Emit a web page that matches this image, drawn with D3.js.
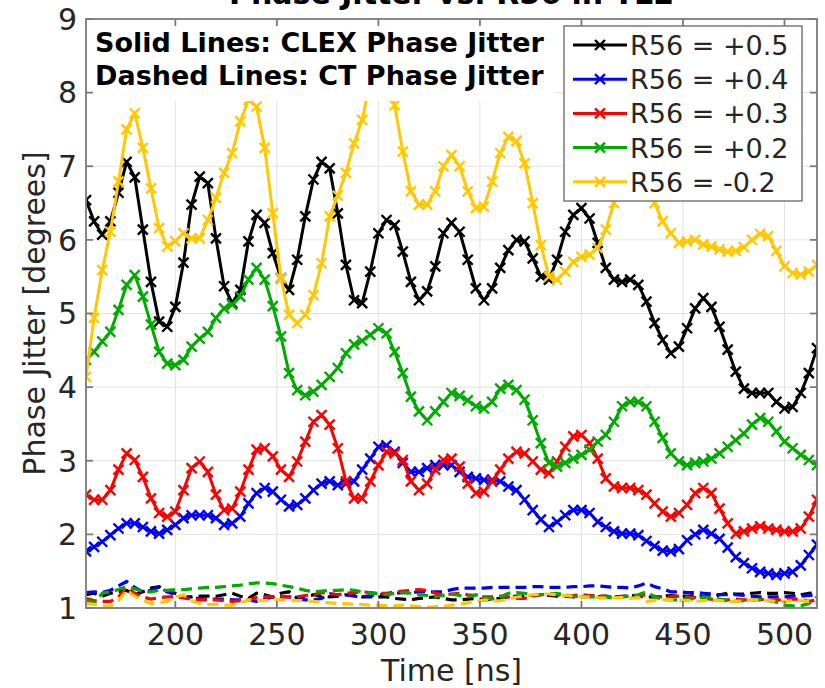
<!DOCTYPE html>
<html>
<head>
<meta charset="utf-8">
<script src="https://cdn.jsdelivr.net/npm/d3@7"></script>
<style>
  html, body { margin: 0; padding: 0; background: #fff; }
  svg { display: block; font-family: "DejaVu Sans", sans-serif; }
</style>
</head>
<body>
<svg id="chart" width="825" height="688"></svg>
<script>
// Sample times [ns]
const timeNs = [156,160,164,168,172,176,180,184,188,192,196,200,204,208,212,216,220,224,228,232,
  236,240,244,248,252,256,260,264,268,272,276,280,284,288,292,296,300,304,308,312,
  316,320,324,328,332,336,340,344,348,352,356,360,364,368,372,376,380,384,388,392,
  396,400,404,408,412,416,420,424,428,432,436,440,444,448,452,456,460,464,468,472,
  476,480,484,488,492,496,500,504,508,512,516];

// CLEX phase jitter [deg] (solid lines)
const clexR56p05 = [6.54,6.25,6.07,6.25,6.64,7.06,6.85,6.14,5.43,4.89,4.82,5.09,5.69,6.48,6.86,6.77,6.02,5.37,5.14,5.32,
  5.98,6.34,6.23,5.82,5.48,5.32,5.73,6.32,6.82,7.06,6.97,6.36,5.66,5.18,5.14,5.57,6.09,6.27,6.20,5.84,
  5.43,5.18,5.30,5.64,6.09,6.23,6.11,5.73,5.34,5.18,5.34,5.62,5.86,6.00,5.98,5.75,5.50,5.46,5.73,6.11,
  6.34,6.43,6.29,5.96,5.62,5.46,5.43,5.46,5.39,5.16,4.87,4.64,4.46,4.55,4.80,5.07,5.21,5.09,4.82,4.51,
  4.21,3.98,3.92,3.92,3.92,3.80,3.71,3.73,3.92,4.19,4.53];
const clexR56p04 = [1.77,1.83,1.90,1.99,2.08,2.15,2.15,2.10,2.04,2.01,2.06,2.13,2.22,2.26,2.26,2.26,2.22,2.13,2.15,2.24,
  2.42,2.56,2.63,2.58,2.47,2.38,2.40,2.49,2.60,2.69,2.72,2.67,2.69,2.72,2.88,3.03,3.19,3.21,3.12,2.97,
  2.85,2.85,2.90,2.94,2.94,2.94,2.85,2.78,2.76,2.74,2.74,2.72,2.65,2.60,2.47,2.33,2.20,2.10,2.17,2.26,
  2.33,2.33,2.29,2.17,2.10,2.04,2.01,2.01,1.99,1.91,1.84,1.78,1.77,1.80,1.92,2.00,2.06,2.01,1.94,1.82,
  1.69,1.61,1.54,1.49,1.47,1.45,1.47,1.49,1.58,1.72,1.86];
const clexR56p03 = [2.54,2.47,2.47,2.60,2.88,3.10,3.01,2.78,2.49,2.29,2.24,2.31,2.60,2.90,2.99,2.85,2.54,2.33,2.35,2.58,
  2.88,3.15,3.17,3.06,2.88,2.78,2.99,3.26,3.53,3.62,3.49,3.17,2.72,2.49,2.49,2.72,2.94,3.12,3.10,3.01,
  2.72,2.60,2.69,2.88,3.01,3.03,2.92,2.69,2.56,2.58,2.72,2.88,3.03,3.12,3.10,2.99,2.88,2.83,2.99,3.19,
  3.33,3.35,3.24,3.03,2.76,2.65,2.63,2.63,2.60,2.54,2.42,2.31,2.24,2.29,2.40,2.56,2.63,2.56,2.35,2.15,
  2.01,2.04,2.08,2.11,2.08,2.06,2.04,2.04,2.08,2.24,2.47];
const clexR56p02 = [4.37,4.48,4.62,4.75,5.05,5.39,5.52,5.23,4.85,4.48,4.32,4.30,4.37,4.55,4.66,4.75,4.94,5.07,5.12,5.23,
  5.46,5.62,5.46,5.10,4.69,4.19,3.96,3.89,3.94,4.03,4.14,4.26,4.46,4.58,4.63,4.71,4.80,4.73,4.48,4.19,
  3.87,3.67,3.55,3.67,3.80,3.92,3.88,3.82,3.74,3.71,3.80,3.98,4.03,3.96,3.83,3.55,3.24,2.97,2.92,2.97,
  3.03,3.08,3.15,3.26,3.35,3.53,3.74,3.80,3.80,3.74,3.53,3.31,3.10,2.99,2.94,2.97,2.99,3.03,3.10,3.19,
  3.28,3.37,3.49,3.58,3.53,3.40,3.26,3.17,3.08,3.01,2.94];
const clexR56m02 = [4.14,4.94,5.59,6.11,6.79,7.50,7.72,7.25,6.70,6.16,5.91,5.98,6.09,6.02,6.02,6.27,6.57,6.91,7.18,7.61,
  7.90,7.81,7.25,6.36,5.48,4.98,4.87,4.98,5.25,5.68,6.32,6.60,6.91,7.31,7.63,8.15,8.40,8.30,7.83,7.20,
  6.66,6.48,6.48,6.66,7.00,7.15,7.00,6.66,6.43,6.45,6.79,7.18,7.40,7.34,7.04,6.50,5.93,5.50,5.46,5.57,
  5.70,5.77,5.80,5.89,6.14,6.50,6.90,7.20,7.30,7.00,6.50,6.25,6.09,5.96,5.98,6.00,5.94,5.91,5.87,5.84,
  5.85,5.90,6.00,6.08,6.05,5.85,5.64,5.55,5.53,5.57,5.66];

// CT phase jitter [deg] (dashed lines)
const ctR56p05 = [1.18,1.20,1.16,1.20,1.22,1.24,1.18,1.22,1.27,1.29,1.22,1.20,1.15,1.15,1.16,1.16,1.16,1.18,1.20,1.16,
  1.13,1.20,1.18,1.15,1.20,1.22,1.13,1.15,1.18,1.16,1.15,1.16,1.18,1.17,1.15,1.15,1.15,1.15,1.13,1.12,
  1.11,1.13,1.14,1.15,1.13,1.11,1.11,1.12,1.13,1.11,1.12,1.13,1.15,1.16,1.16,1.17,1.18,1.17,1.16,1.16,
  1.15,1.15,1.16,1.15,1.16,1.15,1.16,1.17,1.16,1.15,1.15,1.16,1.17,1.16,1.16,1.17,1.16,1.15,1.18,1.20,
  1.19,1.19,1.20,1.21,1.20,1.20,1.21,1.20,1.18,1.20,1.21];
const ctR56p04 = [1.21,1.22,1.21,1.24,1.30,1.36,1.28,1.22,1.24,1.29,1.22,1.18,1.14,1.13,1.13,1.12,1.12,1.12,1.11,1.11,
  1.11,1.09,1.12,1.15,1.15,1.15,1.12,1.11,1.11,1.13,1.19,1.18,1.18,1.16,1.15,1.17,1.18,1.19,1.20,1.21,
  1.21,1.22,1.22,1.22,1.22,1.25,1.27,1.27,1.27,1.27,1.28,1.28,1.28,1.28,1.28,1.29,1.29,1.28,1.28,1.28,
  1.29,1.29,1.30,1.30,1.29,1.28,1.28,1.27,1.30,1.34,1.29,1.26,1.22,1.22,1.21,1.21,1.20,1.19,1.18,1.18,
  1.18,1.17,1.16,1.15,1.15,1.15,1.15,1.16,1.16,1.17,1.18];
const ctR56p03 = [1.13,1.10,1.09,1.09,1.15,1.28,1.20,1.15,1.12,1.14,1.15,1.15,1.14,1.12,1.11,1.11,1.11,1.10,1.09,1.10,
  1.11,1.14,1.15,1.15,1.15,1.15,1.15,1.17,1.18,1.21,1.20,1.18,1.20,1.21,1.22,1.21,1.20,1.20,1.22,1.23,
  1.24,1.25,1.24,1.20,1.18,1.19,1.20,1.18,1.17,1.15,1.15,1.16,1.15,1.13,1.13,1.16,1.18,1.18,1.18,1.17,
  1.17,1.18,1.17,1.17,1.16,1.15,1.15,1.16,1.17,1.18,1.16,1.15,1.15,1.16,1.15,1.14,1.13,1.12,1.11,1.11,
  1.12,1.11,1.11,1.12,1.11,1.11,1.11,1.12,1.12,1.09,1.11];
const ctR56p02 = [1.11,1.07,1.20,1.22,1.25,1.29,1.26,1.22,1.22,1.24,1.24,1.25,1.25,1.26,1.27,1.28,1.28,1.29,1.30,1.31,
  1.33,1.34,1.34,1.33,1.31,1.29,1.27,1.24,1.22,1.23,1.24,1.24,1.25,1.24,1.22,1.20,1.20,1.18,1.20,1.21,
  1.20,1.18,1.17,1.15,1.17,1.19,1.17,1.15,1.18,1.15,1.12,1.15,1.20,1.21,1.20,1.18,1.18,1.19,1.20,1.18,
  1.16,1.15,1.15,1.15,1.15,1.13,1.15,1.17,1.18,1.22,1.15,1.12,1.11,1.11,1.12,1.13,1.15,1.14,1.12,1.10,
  1.09,1.10,1.11,1.11,1.10,1.08,1.04,1.03,1.03,1.06,1.15];
const ctR56m02 = [1.06,1.05,1.03,1.02,1.10,1.24,1.16,1.11,1.06,1.07,1.09,1.15,1.18,1.10,1.06,1.05,1.05,1.04,1.04,1.07,
  1.11,1.10,1.10,1.11,1.11,1.10,1.10,1.10,1.09,1.08,1.07,1.06,1.06,1.05,1.05,1.04,1.04,1.03,1.03,1.04,
  1.03,1.02,1.01,1.02,1.02,1.04,1.05,1.07,1.09,1.11,1.09,1.10,1.12,1.15,1.16,1.18,1.19,1.19,1.18,1.17,
  1.16,1.15,1.15,1.14,1.13,1.14,1.14,1.13,1.14,1.09,1.10,1.11,1.11,1.10,1.10,1.09,1.10,1.11,1.10,1.09,
  1.09,1.10,1.11,1.11,1.10,1.09,1.09,1.10,1.10,1.09,1.08];

const seriesLabels = ["R56 = +0.5", "R56 = +0.4", "R56 = +0.3", "R56 = +0.2", "R56 = -0.2"];
const seriesColors = ["#000000", "#0000ff", "#ff0000", "#00aa00", "#ffc800"];
const clexSeries = [clexR56p05, clexR56p04, clexR56p03, clexR56p02, clexR56m02];
const ctSeries = [ctR56p05, ctR56p04, ctR56p03, ctR56p02, ctR56m02];

const xTicks = [200, 250, 300, 350, 400, 450, 500];
const yTicks = [1, 2, 3, 4, 5, 6, 7, 8, 9];
const titleText = "Phase Jitter vs. R56 in TL2";
const xLabel = "Time [ns]";
const yLabel = "Phase Jitter [degrees]";
const noteLines = ["Solid Lines: CLEX Phase Jitter", "Dashed Lines: CT Phase Jitter"];

// ---- layout ----
const plot = { left: 86, right: 817, top: 19, bottom: 608 };
const x = d3.scaleLinear().domain([156, 516]).range([plot.left, plot.right]);
const y = d3.scaleLinear().domain([1, 9]).range([plot.bottom, plot.top]);
const axisColor = "#262626";
const frameColor = "#7a7a7a";

const svg = d3.select("#chart");

svg.append("defs").append("clipPath").attr("id", "plotClip")
  .append("rect")
  .attr("x", plot.left).attr("y", plot.top)
  .attr("width", plot.right - plot.left).attr("height", plot.bottom - plot.top);

// grid
const grid = svg.append("g").attr("stroke", "#e2e2e2").attr("stroke-width", 1);
grid.selectAll("line.gx").data(xTicks).join("line")
  .attr("x1", d => x(d)).attr("x2", d => x(d))
  .attr("y1", plot.top).attr("y2", plot.bottom);
grid.selectAll("line.gy").data(yTicks.slice(1, -1)).join("line")
  .attr("x1", plot.left).attr("x2", plot.right)
  .attr("y1", d => y(d)).attr("y2", d => y(d));

// data
const data = svg.append("g").attr("clip-path", "url(#plotClip)");
const line = d3.line().x((d, i) => x(timeNs[i])).y(d => y(d));
const crossPath = "M-5,-5L5,5M-5,5L5,-5";

ctSeries.forEach((vals, k) => {
  data.append("path")
    .attr("d", line(vals))
    .attr("fill", "none")
    .attr("stroke", seriesColors[k])
    .attr("stroke-width", 3.2)
    .attr("stroke-dasharray", "11,6");
});

clexSeries.forEach((vals, k) => {
  const g = data.append("g");
  g.append("path")
    .attr("d", line(vals))
    .attr("fill", "none")
    .attr("stroke", seriesColors[k])
    .attr("stroke-width", 3)
    .attr("stroke-linejoin", "round");
  g.selectAll("path.mk").data(vals).join("path")
    .attr("class", "mk")
    .attr("d", crossPath)
    .attr("transform", (d, i) => `translate(${x(timeNs[i])},${y(d)})`)
    .attr("fill", "none")
    .attr("stroke", seriesColors[k])
    .attr("stroke-width", 2.4);
});

// annotation box
svg.append("rect")
  .attr("x", plot.left).attr("y", plot.top)
  .attr("width", 555 - plot.left).attr("height", 101 - plot.top)
  .attr("fill", "#ffffff");
svg.selectAll("text.note").data(noteLines).join("text")
  .attr("class", "note")
  .attr("x", 95)
  .attr("y", (d, i) => 52 + i * 33)
  .attr("font-size", 27)
  .attr("font-weight", "bold")
  .attr("fill", "#000")
  .text(d => d);

// frame and ticks
const frame = svg.append("g").attr("stroke", frameColor).attr("stroke-width", 1.8).attr("fill", "none");
frame.append("rect")
  .attr("x", plot.left).attr("y", plot.top)
  .attr("width", plot.right - plot.left).attr("height", plot.bottom - plot.top);
const tl = 7;
xTicks.forEach(t => {
  frame.append("line").attr("x1", x(t)).attr("x2", x(t)).attr("y1", plot.bottom).attr("y2", plot.bottom - tl);
  frame.append("line").attr("x1", x(t)).attr("x2", x(t)).attr("y1", plot.top).attr("y2", plot.top + tl);
});
yTicks.forEach(t => {
  frame.append("line").attr("x1", plot.left).attr("x2", plot.left + tl).attr("y1", y(t)).attr("y2", y(t));
  frame.append("line").attr("x1", plot.right).attr("x2", plot.right - tl).attr("y1", y(t)).attr("y2", y(t));
});

// tick labels
svg.selectAll("text.xt").data(xTicks).join("text")
  .attr("class", "xt")
  .attr("x", d => x(d)).attr("y", 645)
  .attr("text-anchor", "middle")
  .attr("font-size", 30).attr("fill", axisColor)
  .text(d => d);
svg.selectAll("text.yt").data(yTicks).join("text")
  .attr("class", "yt")
  .attr("x", 77).attr("y", d => y(d))
  .attr("dy", "0.36em")
  .attr("text-anchor", "end")
  .attr("font-size", 30).attr("fill", axisColor)
  .text(d => d);

// axis labels and title (title sits at the very top edge of the figure)
svg.append("text")
  .attr("x", (plot.left + plot.right) / 2).attr("y", 681)
  .attr("text-anchor", "middle")
  .attr("font-size", 30).attr("fill", axisColor)
  .text(xLabel);
svg.append("text")
  .attr("transform", `translate(45,${(plot.top + plot.bottom) / 2}) rotate(-90)`)
  .attr("text-anchor", "middle")
  .attr("font-size", 30).attr("fill", axisColor)
  .text(yLabel);
svg.append("text")
  .attr("x", (plot.left + plot.right) / 2).attr("y", 4)
  .attr("text-anchor", "middle")
  .attr("font-size", 30).attr("font-weight", "bold").attr("fill", "#000")
  .text(titleText);

// legend
const legend = svg.append("g");
legend.append("rect")
  .attr("x", 564).attr("y", 26).attr("width", 238).attr("height", 175)
  .attr("fill", "#ffffff").attr("stroke", frameColor).attr("stroke-width", 1.5);
seriesLabels.forEach((lab, k) => {
  const yy = 45 + k * 34.2;
  legend.append("line")
    .attr("x1", 573).attr("x2", 627).attr("y1", yy).attr("y2", yy)
    .attr("stroke", seriesColors[k]).attr("stroke-width", 3);
  legend.append("path")
    .attr("d", crossPath)
    .attr("transform", `translate(600,${yy})`)
    .attr("fill", "none").attr("stroke", seriesColors[k]).attr("stroke-width", 2.4);
  legend.append("text")
    .attr("x", 630).attr("y", yy + 10)
    .attr("font-size", 27).attr("fill", axisColor)
    .text(lab);
});
</script>
</body>
</html>
